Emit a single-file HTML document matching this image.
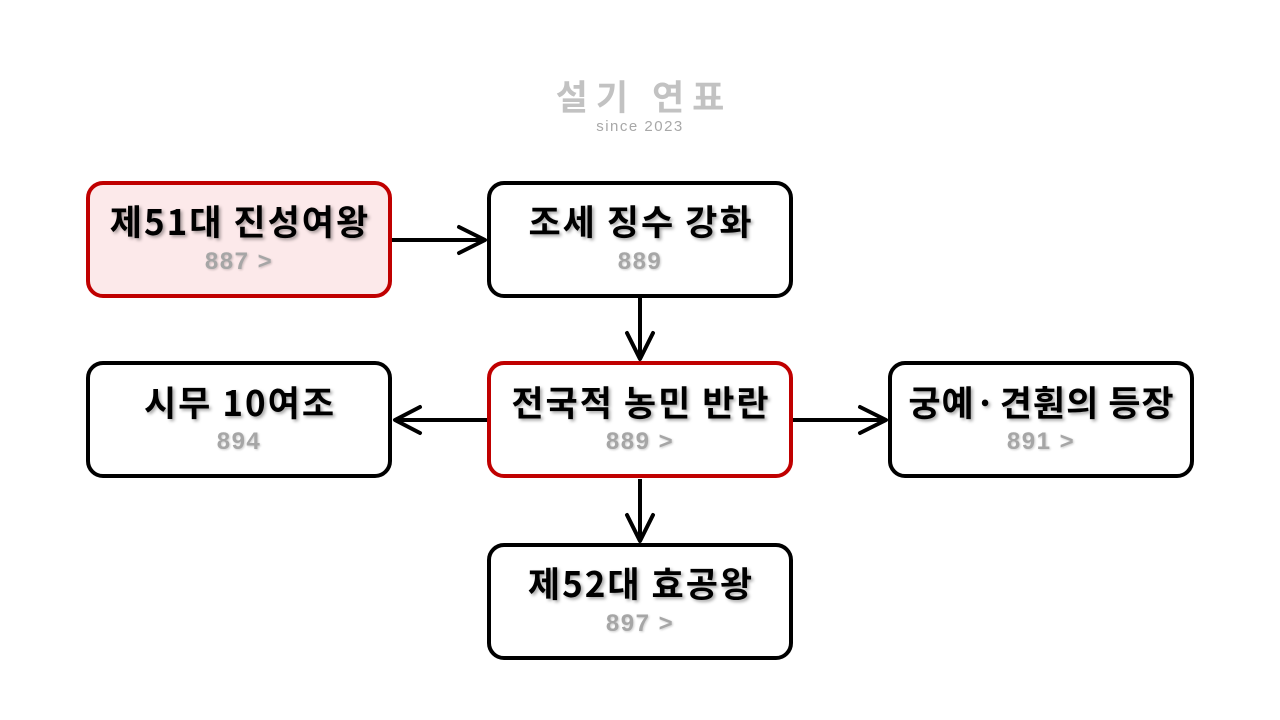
<!DOCTYPE html>
<html>
<head>
<meta charset="utf-8">
<style>
  html, body { margin:0; padding:0; background:#fff; }
  #stage { position:relative; width:1280px; height:720px; overflow:hidden; background:#fff; }
  svg { position:absolute; left:0; top:0; }
  .t { position:absolute; width:306px; text-align:center; white-space:nowrap;
       font-family:"Liberation Sans","Noto Sans CJK KR",sans-serif; }
  .title { font-family:"Noto Sans CJK KR","Liberation Sans",sans-serif; font-weight:bold;
           font-size:35px; line-height:35px; color:#000; letter-spacing:2px; padding-left:2px; box-sizing:border-box;
           text-shadow: 2px 2px 3px rgba(0,0,0,0.35); }
  .sub { font-weight:bold; font-size:24px; line-height:24px; color:#a6a6a6; letter-spacing:1.5px;
         text-shadow: 1px 1px 2px rgba(0,0,0,0.2); }
  .hdr { position:absolute; left:0; width:1280px; text-align:center; white-space:nowrap; }
</style>
</head>
<body>
<div id="stage">
<svg width="1280" height="720" viewBox="0 0 1280 720">
  <rect x="88" y="183" width="302" height="113" rx="15" fill="#fce9ea" stroke="#c00000" stroke-width="4"/>
  <rect x="489" y="183" width="302" height="113" rx="15" fill="#fff" stroke="#000" stroke-width="4"/>
  <rect x="489" y="363" width="302" height="113" rx="15" fill="#fff" stroke="#c00000" stroke-width="4"/>
  <rect x="88" y="363" width="302" height="113" rx="15" fill="#fff" stroke="#000" stroke-width="4"/>
  <rect x="890" y="363" width="302" height="113" rx="15" fill="#fff" stroke="#000" stroke-width="4"/>
  <rect x="489" y="545" width="302" height="113" rx="15" fill="#fff" stroke="#000" stroke-width="4"/>

  <g stroke="#000" stroke-width="4" fill="none" stroke-linecap="round" stroke-linejoin="round">
    <line x1="392" y1="240" x2="485" y2="240" stroke-linecap="butt"/>
    <polyline points="459,227 485,240 459,253"/>
    <line x1="640" y1="298" x2="640" y2="359" stroke-linecap="butt"/>
    <polyline points="627,333 640,359 653,333"/>
    <line x1="487" y1="420" x2="395" y2="420" stroke-linecap="butt"/>
    <polyline points="420,407 395,420 420,433"/>
    <line x1="793" y1="420" x2="886" y2="420" stroke-linecap="butt"/>
    <polyline points="860,407 886,420 860,433"/>
    <line x1="640" y1="479" x2="640" y2="541" stroke-linecap="butt"/>
    <polyline points="627,515 640,541 653,515"/>
  </g>
</svg>

<div class="hdr" style="top:78px; font-family:'Noto Sans CJK KR','Liberation Sans',sans-serif; font-weight:bold; font-size:35px; line-height:35px; letter-spacing:8px; color:#c2c2c2; padding-left:8px; box-sizing:border-box;">설기 연표</div>
<div class="hdr" style="top:119px; font-family:'Liberation Sans',sans-serif; font-size:15px; line-height:15px; letter-spacing:1.5px; color:#a8a8a8;">since 2023</div>

<div class="t title" style="left:86px; top:203px;">제51대 진성여왕</div>
<div class="t sub" style="left:86px; top:250px;">887 &gt;</div>

<div class="t title" style="left:487px; top:203px;">조세 징수 강화</div>
<div class="t sub" style="left:487px; top:250px;">889</div>

<div class="t title" style="left:487px; top:384px;">전국적 농민 반란</div>
<div class="t sub" style="left:487px; top:430px;">889 &gt;</div>

<div class="t title" style="left:86px; top:384px;">시무 10여조</div>
<div class="t sub" style="left:86px; top:430px;">894</div>

<div class="t title" style="left:888px; top:384px; letter-spacing:1px; padding-left:1px;">궁예·&#8202;견훤의 등장</div>
<div class="t sub" style="left:888px; top:430px;">891 &gt;</div>

<div class="t title" style="left:487px; top:565px;">제52대 효공왕</div>
<div class="t sub" style="left:487px; top:612px;">897 &gt;</div>
</div>
</body>
</html>
